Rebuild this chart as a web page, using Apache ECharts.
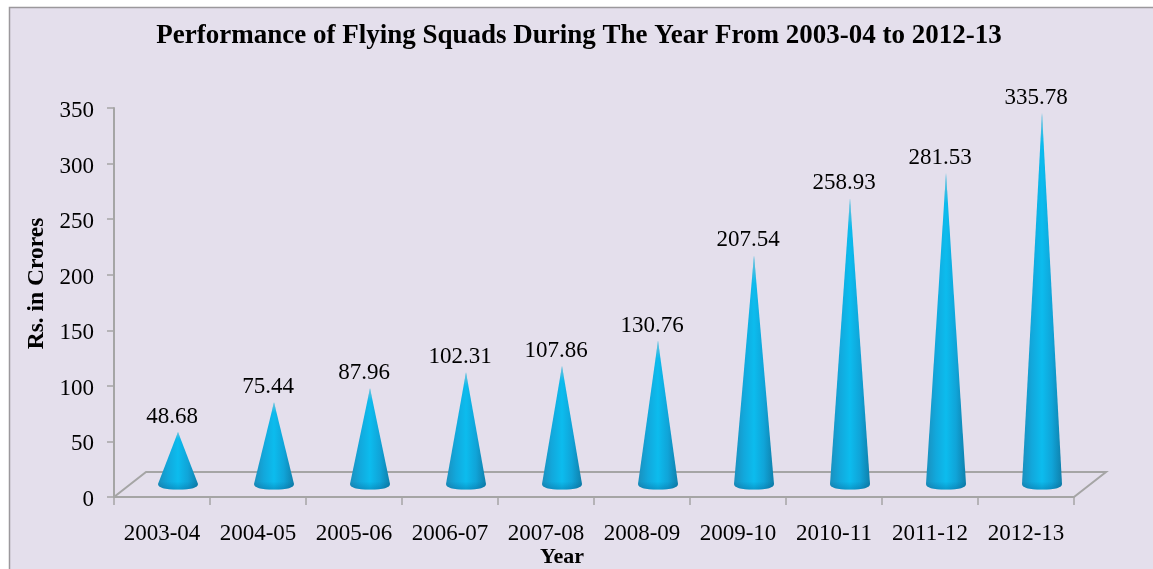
<!DOCTYPE html>
<html><head><meta charset="utf-8">
<style>html,body{margin:0;padding:0;background:#fff}#c{width:1153px;height:569px}</style>
<script src="https://cdn.jsdelivr.net/npm/echarts@6/dist/echarts.min.js"></script>
</head><body><div id="c"></div>
<script>
const categories = ['2003-04','2004-05','2005-06','2006-07','2007-08','2008-09','2009-10','2010-11','2011-12','2012-13'];
const values = [48.68,75.44,87.96,102.31,107.86,130.76,207.54,258.93,281.53,335.78];
const titleText = 'Performance of Flying Squads During The Year From 2003-04 to 2012-13';
const serif = '"Liberation Serif","Times New Roman",serif';
const G = '#a5a5a5';

const chart = echarts.init(document.getElementById('c'), null, {renderer:'canvas'});
const depthX = 32, depthY = 25, coneDX = 16, coneDY = 11, coneHalf = 20;

function coneGradient(){
  return new echarts.graphic.LinearGradient(0,0,1,0,[
    {offset:0,color:'#1a8fbd'},{offset:0.25,color:'#12a8dc'},
    {offset:0.5,color:'#0cbcee'},{offset:0.75,color:'#10a4d8'},{offset:1,color:'#0f7fab'}]);
}
function shadeGradient(h){
  const tip = Math.min(0.12, 30/h), foot = 1 - 8/h;
  return new echarts.graphic.LinearGradient(0,0,0,1,[
    {offset:0,color:'rgba(170,195,205,0.7)'},{offset:tip,color:'rgba(170,195,205,0)'},
    {offset:foot,color:'rgba(0,80,130,0)'},{offset:1,color:'rgba(0,80,130,0.3)'}]);
}
chart.setOption({
  animation:false,
  backgroundColor:'#e4dfec',
  textStyle:{fontFamily:serif},
  title:{text:titleText,left:574,top:18,textAlign:'center',
    textStyle:{fontFamily:serif,fontWeight:'bold',fontSize:27,color:'#000'}},
  grid:{left:114,right:79,top:108,bottom:72,containLabel:false,outerBoundsMode:'none'},
  xAxis:{type:'category',data:categories,name:'Year',nameLocation:'middle',nameGap:49,nameMoveOverlap:false,
    nameTextStyle:{fontFamily:serif,fontWeight:'bold',fontSize:22,color:'#000',padding:[0,64,0,0]},
    axisLine:{show:true,lineStyle:{color:G,width:2}},
    axisTick:{show:true,alignWithLabel:false,length:8,lineStyle:{color:G,width:1.5}},
    axisLabel:{interval:0,margin:25,fontFamily:serif,fontSize:23,color:'#000'},
    splitLine:{show:false}},
  yAxis:{type:'value',min:0,max:350,interval:50,name:'Rs. in Crores',nameLocation:'middle',nameGap:64,
    nameTextStyle:{fontFamily:serif,fontWeight:'bold',fontSize:23.5,color:'#000',padding:[0,0,0,38]},
    axisLine:{show:true,lineStyle:{color:G,width:2}},
    axisTick:{show:true,length:7,lineStyle:{color:G,width:1.5}},
    axisLabel:{margin:20,verticalAlign:'top',lineHeight:6,fontFamily:serif,fontSize:23,color:'#000'},
    splitLine:{show:false}},
  series:[
    {type:'custom',silent:true,z:1,data:[[0]],clip:false,
     renderItem(p,api){
       const w=p.coordSys.width, x0=p.coordSys.x, y0=p.coordSys.y+p.coordSys.height;
       return {type:'polyline',shape:{points:[[x0,y0],[x0+depthX,y0-depthY],[x0+w+depthX,y0-depthY],[x0+w,y0]]},
         style:{fill:null,stroke:G,lineWidth:2}};
     }},
    {type:'custom',z:3,clip:false,
     data:values.map((v,i)=>[i,v]),
     encode:{x:0,y:1},
     renderItem(p,api){
       const top=api.coord([api.value(0),api.value(1)]);
       const base=api.coord([api.value(0),0]);
       const cx=top[0]+coneDX, ty=top[1]-coneDY, by=base[1]-coneDY;
       const d=`M${cx} ${ty} L${cx+coneHalf} ${by-2} Q${cx+coneHalf} ${by+3.5} ${cx} ${by+3.5} Q${cx-coneHalf} ${by+3.5} ${cx-coneHalf} ${by-2} Z`;
       const rect={x:cx-coneHalf,y:ty,width:coneHalf*2,height:by+3.5-ty};
       return {type:'group',children:[
         {type:'path',shape:Object.assign({pathData:d,layout:'cover'},rect),style:{fill:coneGradient()}},
         {type:'path',shape:Object.assign({pathData:d,layout:'cover'},rect),style:{fill:shadeGradient(rect.height)}},
         {type:'text',x:cx-6,y:ty-15,style:{text:api.value(1).toFixed(2),align:'center',verticalAlign:'middle',
           font:`23px ${serif}`,fill:'#000'}}
       ]};
     }},
  ],
  graphic:[{type:'polyline',shape:{points:[[9.5,569],[9.5,7.5],[1153,7.5]]},style:{fill:null,stroke:'#9b989c',lineWidth:1.5},z:100},
   {type:'rect',shape:{x:0,y:0,width:9,height:569},style:{fill:'#fff'},z:99},
   {type:'rect',shape:{x:0,y:0,width:1153,height:7},style:{fill:'#fff'},z:99}]
});
</script></body></html>
